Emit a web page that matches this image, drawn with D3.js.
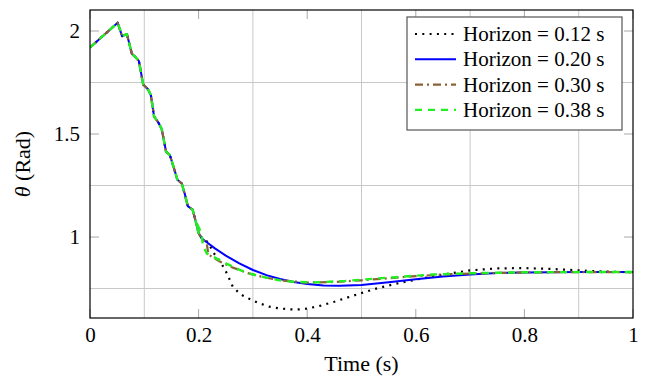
<!DOCTYPE html>
<html>
<head>
<meta charset="utf-8">
<script src="https://cdn.jsdelivr.net/npm/d3@7"></script>
<style>
  html, body { margin: 0; padding: 0; background: #fff; }
  svg text { font-family: "Liberation Serif", "Times New Roman", serif; fill: #000; }
</style>
</head>
<body>
<svg id="chart" width="648" height="382"></svg>
<script>
// ---------------- data ----------------
const xTicks = [0, 0.2, 0.4, 0.6, 0.8, 1];
const xTickLabels = ["0", "0.2", "0.4", "0.6", "0.8", "1"];
const xGrid = [0.1, 0.3, 0.5, 0.7, 0.9];
const yTicks = [1, 1.5, 2];
const yTickLabels = ["1", "1.5", "2"];
const yGrid = [0.75, 1.25, 1.75];

const seriesNames = ["Horizon = 0.12 s", "Horizon = 0.20 s", "Horizon = 0.30 s", "Horizon = 0.38 s"];

// shared staircase start (time, theta)
const stairT = [0, 0.051, 0.059, 0.068, 0.077, 0.083, 0.090, 0.098, 0.106, 0.112, 0.118, 0.126, 0.132, 0.140, 0.147, 0.154, 0.161, 0.169, 0.175, 0.180, 0.189, 0.194, 0.200];
const stairV = [1.92, 2.04, 1.975, 1.985, 1.89, 1.875, 1.855, 1.74, 1.72, 1.69, 1.585, 1.555, 1.525, 1.415, 1.398, 1.34, 1.278, 1.26, 1.205, 1.15, 1.133, 1.083, 1.02];

const h012T = [0.205, 0.212, 0.218, 0.227, 0.235, 0.242, 0.252, 0.263, 0.272, 0.282, 0.295, 0.31, 0.33, 0.35, 0.37, 0.385, 0.40, 0.425, 0.45, 0.475, 0.5, 0.525, 0.55, 0.575, 0.6, 0.65, 0.7, 0.75, 0.8, 0.85, 0.9, 0.95, 1.0];
const h012V = [1.0, 0.985, 0.972, 0.925, 0.898, 0.872, 0.824, 0.759, 0.735, 0.715, 0.698, 0.68, 0.662, 0.653, 0.649, 0.649, 0.653, 0.667, 0.686, 0.707, 0.728, 0.748, 0.765, 0.78, 0.793, 0.818, 0.838, 0.848, 0.849, 0.845, 0.838, 0.832, 0.829];

const h020T = [0.205, 0.215, 0.23, 0.25, 0.275, 0.3, 0.325, 0.35, 0.375, 0.4, 0.43, 0.46, 0.5, 0.55, 0.6, 0.65, 0.7, 0.75, 0.8, 0.9, 1.0];
const h020V = [0.995, 0.975, 0.945, 0.91, 0.872, 0.84, 0.815, 0.796, 0.782, 0.772, 0.765, 0.763, 0.767, 0.78, 0.795, 0.808, 0.818, 0.825, 0.828, 0.83, 0.83];

const h030T = [0.205, 0.215, 0.218, 0.23, 0.24, 0.26, 0.29, 0.32, 0.35, 0.4, 0.45, 0.5, 0.55, 0.6, 0.65, 0.7, 0.8, 0.9, 1.0];
const h030V = [0.995, 0.97, 0.915, 0.895, 0.88, 0.855, 0.825, 0.805, 0.79, 0.779, 0.782, 0.79, 0.80, 0.81, 0.818, 0.823, 0.828, 0.83, 0.83];

const h038T = [0.196, 0.205, 0.208, 0.215, 0.23, 0.252, 0.276, 0.3, 0.33, 0.36, 0.41, 0.47, 0.55, 0.63, 0.7, 0.8, 0.9, 1.0];
const h038V = [1.07, 1.02, 0.96, 0.92, 0.90, 0.87, 0.84, 0.818, 0.8, 0.785, 0.779, 0.787, 0.803, 0.818, 0.824, 0.829, 0.83, 0.83];

// ---------------- layout ----------------
const mL = 90, mR = 633, mT = 10, mB = 318;
const svg = d3.select("#chart");

const x = d3.scaleLinear().domain([0, 1]).range([mL, mR]);
const y = d3.scaleLinear().domain([0.607, 2.102]).range([mB, mT]);

const gridColor = "#c8c8c8";
const tickColor = "#a8a8a8";

// grid
svg.append("g").selectAll("line").data(xGrid).join("line")
  .attr("x1", d => x(d)).attr("x2", d => x(d))
  .attr("y1", mT).attr("y2", mB)
  .attr("stroke", gridColor).attr("stroke-width", 1);
svg.append("g").selectAll("line").data(yGrid).join("line")
  .attr("x1", mL).attr("x2", mR)
  .attr("y1", d => y(d)).attr("y2", d => y(d))
  .attr("stroke", gridColor).attr("stroke-width", 1);

// inward major ticks on all sides
const tl = 9;
const tg = svg.append("g").attr("stroke", tickColor).attr("stroke-width", 1);
tg.selectAll(".tb").data(xTicks).join("line").attr("class", "tb")
  .attr("x1", d => x(d)).attr("x2", d => x(d)).attr("y1", mB).attr("y2", mB - tl);
tg.selectAll(".tt").data(xTicks).join("line").attr("class", "tt")
  .attr("x1", d => x(d)).attr("x2", d => x(d)).attr("y1", mT).attr("y2", mT + tl);
tg.selectAll(".tlft").data(yTicks).join("line").attr("class", "tlft")
  .attr("x1", mL).attr("x2", mL + tl).attr("y1", d => y(d)).attr("y2", d => y(d));
tg.selectAll(".trgt").data(yTicks).join("line").attr("class", "trgt")
  .attr("x1", mR).attr("x2", mR - tl).attr("y1", d => y(d)).attr("y2", d => y(d));

// axes labels via d3 axes
const xAxis = d3.axisBottom(x).tickValues(xTicks).tickFormat((d, i) => xTickLabels[i]).tickSize(0).tickPadding(9);
const gx = svg.append("g").attr("transform", `translate(0,${mB})`).call(xAxis);
gx.select(".domain").remove();
gx.selectAll("text").style("font-family", '"Liberation Serif", serif').style("font-size", "21px").attr("fill", "#000");

const yAxis = d3.axisLeft(y).tickValues(yTicks).tickFormat((d, i) => yTickLabels[i]).tickSize(0).tickPadding(10);
const gy = svg.append("g").attr("transform", `translate(${mL},0)`).call(yAxis);
gy.select(".domain").remove();
gy.selectAll("text").style("font-family", '"Liberation Serif", serif').style("font-size", "21px").attr("fill", "#000");

// clip
svg.append("clipPath").attr("id", "clip").append("rect")
  .attr("x", mL).attr("y", mT).attr("width", mR - mL).attr("height", mB - mT);

const line = d3.line().x(d => x(d[0])).y(d => y(d[1])).curve(d3.curveLinear);
const zip = (t, v) => t.map((d, i) => [d, v[i]]);
const stair = zip(stairT, stairV);

const series = [
  { name: seriesNames[0], pts: stair.concat(zip(h012T, h012V)), color: "#000000", dash: "2 5.3", width: 2.2 },
  { name: seriesNames[1], pts: stair.concat(zip(h020T, h020V)), color: "#0000ff", dash: null, width: 2 },
  { name: seriesNames[2], pts: stair.concat(zip(h030T, h030V)), color: "#8a6238", dash: "8 4 2 4", width: 2.2 },
  { name: seriesNames[3], pts: stair.concat(zip(h038T, h038V)), color: "#22ee22", dash: "7 6", width: 2.4 }
];

const plotG = svg.append("g").attr("clip-path", "url(#clip)");
series.forEach(s => {
  plotG.append("path").datum(s.pts)
    .attr("d", line)
    .attr("fill", "none")
    .attr("stroke", s.color)
    .attr("stroke-width", s.width)
    .attr("stroke-dasharray", s.dash)
    .attr("stroke-linejoin", "round");
});

// frame
svg.append("rect").attr("x", mL).attr("y", mT).attr("width", mR - mL).attr("height", mB - mT)
  .attr("fill", "none").attr("stroke", "#000").attr("stroke-width", 1.2);

// axis titles
svg.append("text").attr("x", (mL + mR) / 2).attr("y", 371).attr("text-anchor", "middle")
  .style("font-size", "22px").text("Time (s)");
const yt = svg.append("text").attr("transform", `translate(30,${(mT + mB) / 2}) rotate(-90)`)
  .attr("text-anchor", "middle").style("font-size", "22px");
yt.append("tspan").style("font-style", "italic").text("θ");
yt.append("tspan").text(" (Rad)");

// legend
const lg = svg.append("g");
const lx = 407, ly = 17, lw = 215, lh = 113;
lg.append("rect").attr("x", lx).attr("y", ly).attr("width", lw).attr("height", lh)
  .attr("fill", "#fff").attr("stroke", "#555").attr("stroke-width", 1.2);
const rowY = i => ly + 17 + i * 25.3;
lg.selectAll(".ls").data(series).join("line").attr("class", "ls")
  .attr("x1", lx + 8).attr("x2", lx + 49)
  .attr("y1", (d, i) => rowY(i)).attr("y2", (d, i) => rowY(i))
  .attr("stroke", d => d.color).attr("stroke-width", d => d.width)
  .attr("stroke-dasharray", d => d.dash);
lg.selectAll(".lt").data(series).join("text").attr("class", "lt")
  .attr("x", lx + 56).attr("y", (d, i) => rowY(i) + 7)
  .style("font-size", "21px").text(d => d.name);
</script>
</body>
</html>
